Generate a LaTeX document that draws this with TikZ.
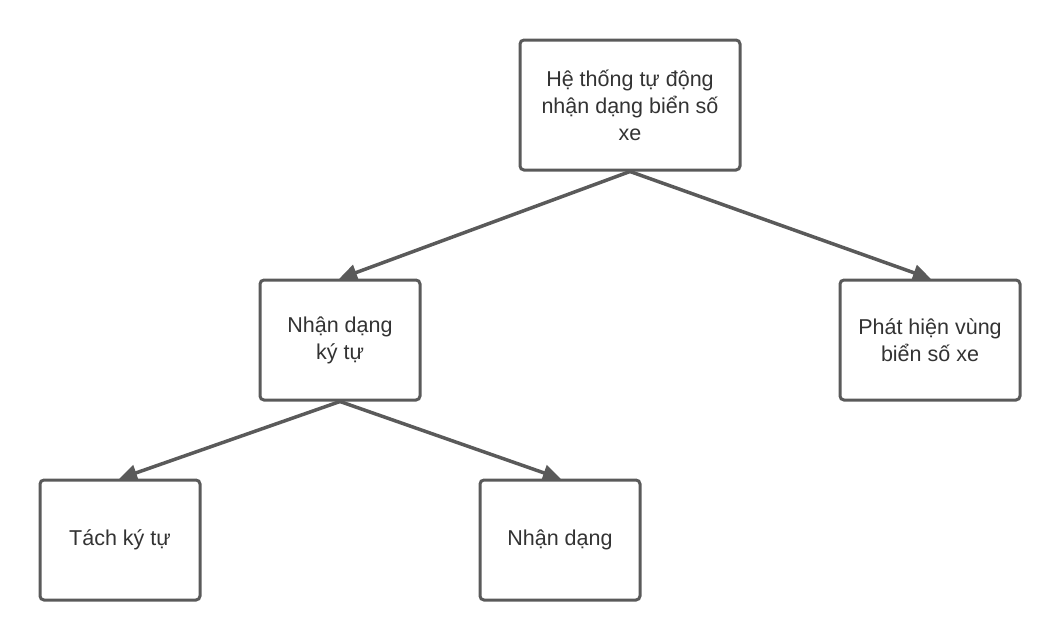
\documentclass[tikz,border=0pt]{standalone}
\usepackage{fontspec}
\setmainfont{Liberation Sans}
\usetikzlibrary{arrows.meta}
\definecolor{edge}{HTML}{5A5A5A}
\definecolor{txt}{HTML}{333333}
\begin{document}
\begin{tikzpicture}[x=1pt,y=-1pt,
  box/.style={draw=edge, line width=3pt, rounded corners=4pt, fill=white,
    minimum width=#1, align=center, text=txt,
    font=\fontsize{21.5}{27}\selectfont, inner sep=0pt},
  box/.default=160pt,
  conn/.style={draw=edge, line width=3.5pt, -{Triangle[length=18pt,width=16pt]}, shorten >=-1pt}]
\useasboundingbox (0,0) rectangle (1060,640);
\node[box=220pt, minimum height=130pt] (top) at (630,105) {Hệ thống tự động\\nhận dạng biển số\\xe};
\node[box, minimum height=120pt] (nd) at (340,340) {Nhận dạng\\ký tự};
\node[box=180pt, minimum height=120pt] (ph) at (930,340) {Phát hiện vùng\\biển số xe};
\node[box, minimum height=120pt] (tach) at (120,540) {Tách ký tự};
\node[box, minimum height=120pt] (nhan) at (560,540) {Nhận dạng};
\draw[conn] (top.south) -- (nd.north);
\draw[conn] (top.south) -- (ph.north);
\draw[conn] (nd.south) -- (tach.north);
\draw[conn] (nd.south) -- (nhan.north);
\end{tikzpicture}
\end{document}
